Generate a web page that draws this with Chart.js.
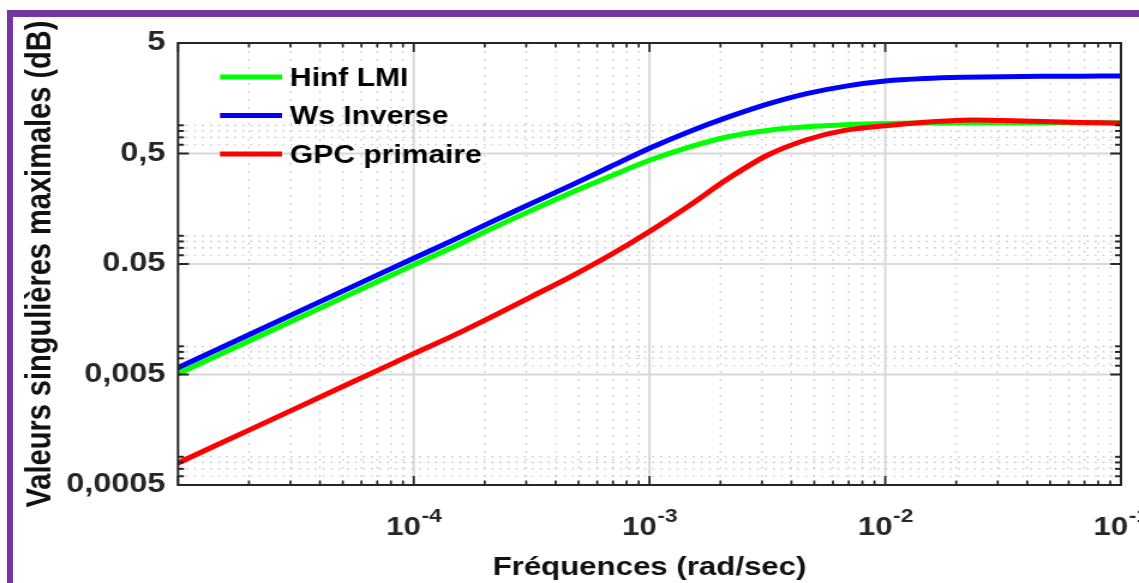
<!DOCTYPE html>
<html>
<head>
<meta charset="utf-8">
<title>Valeurs singulières maximales</title>
<script src="https://cdn.jsdelivr.net/npm/chart.js@4.4.0/dist/chart.umd.min.js"></script>
<style>
  html, body { margin: 0; padding: 0; background: #fff; overflow: hidden; }
  #frame {
    position: absolute; left: 7px; top: 10px; width: 1300px; height: 700px;
    border-left: 6px solid #7636a2; border-top: 7px solid #7636a2;
  }
  #plot { position: absolute; left: 0; top: 0; }
</style>
</head>
<body>
<div id="frame"></div>
<!-- canvas is drawn narrower and stretched sideways to the page width -->
<canvas id="plot" width="949" height="583" style="width:1139px;height:583px"></canvas>
<script>
document.addEventListener('DOMContentLoaded', function() {
    const FONT = '"Liberation Sans", Arial, Helvetica, sans-serif';
    const axisColor = '#262626';

    // Frequencies (rad/sec) and singular values of each curve
    const freq = [1e-5, 2e-5, 5e-5, 1e-4, 1.47e-4, 2.15e-4, 3.16e-4, 4.64e-4, 6.81e-4,
                  1e-3, 1.47e-3, 2.15e-3, 3.16e-3, 4.64e-3, 6.81e-3,
                  1e-2, 1.47e-2, 2.15e-2, 3.16e-2, 4.64e-2, 6.81e-2, 1e-1];
    const hinfLmi = [0.00508, 0.01006, 0.0248, 0.0491, 0.0713, 0.105, 0.1528, 0.2203, 0.311,
                     0.434, 0.570, 0.709, 0.809, 0.871, 0.912,
                     0.935, 0.943, 0.947, 0.949, 0.949, 0.949, 0.949];
    const wsInverse = [0.00576, 0.01145, 0.0284, 0.0564, 0.0822, 0.121, 0.1769, 0.2576, 0.379,
                       0.558, 0.788, 1.066, 1.399, 1.742, 2.037,
                       2.262, 2.382, 2.443, 2.473, 2.495, 2.505, 2.51];
    const gpcPrimaire = [0.000791, 0.00157, 0.00389, 0.00772, 0.01123, 0.0167, 0.02536, 0.0385, 0.0603,
                         0.0986, 0.168, 0.295, 0.482, 0.666, 0.813,
                         0.893, 0.960, 1.001, 0.995, 0.975, 0.954, 0.941];

    // Axis ticks
    const xMajor = [1e-5, 1e-4, 1e-3, 1e-2, 1e-1];
    const xLabelValues = [1e-4, 1e-3, 1e-2, 1e-1];
    const xLabelExp = ['-4', '-3', '-2', '-1'];
    const yMajor = [0.0005, 0.005, 0.05, 0.5, 5];
    const yLabels = ['0,0005', '0,005', '0.05', '0,5', '5'];

    // minor ticks: 2..9 per decade on x, only 6..9 (x 1e-4) on y
    const xMinor = [];
    [1e-5, 1e-4, 1e-3, 1e-2].forEach(d => {
        for (let k = 2; k <= 9; k++) xMinor.push(k * d);
    });
    const yMinor = [];
    [1e-4, 1e-3, 1e-2, 1e-1].forEach(d => {
        for (let k = 6; k <= 9; k++) yMinor.push(k * d);
    });

    function toPoints(values) {
        return freq.map((f, i) => ({ x: f, y: values[i] }));
    }

    function line(ctx, x1, y1, x2, y2) {
        ctx.beginPath();
        ctx.moveTo(x1, y1);
        ctx.lineTo(x2, y2);
        ctx.stroke();
    }

    // Grid, box, inward ticks, x labels with exponents and the legend
    const axesPlugin = {
        id: 'matlabAxes',
        beforeDatasetsDraw(chart) {
            const { ctx, chartArea: a, scales: { x, y } } = chart;
            ctx.save();
            ctx.strokeStyle = '#bdbdbd';
            ctx.lineWidth = 1.2;
            ctx.setLineDash([1.5, 6.5]);
            xMinor.forEach(v => {
                const px = x.getPixelForValue(v);
                line(ctx, px, a.top, px, a.bottom);
            });
            ctx.setLineDash([1.5, 5.2]);
            yMinor.forEach(v => {
                const py = y.getPixelForValue(v);
                line(ctx, a.left, py, a.right, py);
            });
            ctx.setLineDash([]);
            ctx.strokeStyle = '#d8d8d8';
            ctx.lineWidth = 2;
            xMajor.slice(1, -1).forEach(v => {
                const px = x.getPixelForValue(v);
                line(ctx, px, a.top, px, a.bottom);
            });
            yMajor.slice(1, -1).forEach(v => {
                const py = y.getPixelForValue(v);
                line(ctx, a.left, py, a.right, py);
            });
            ctx.restore();
        },
        afterDatasetsDraw(chart) {
            const { ctx, chartArea: a, scales: { x, y } } = chart;
            ctx.save();
            ctx.strokeStyle = axisColor;

            // tick marks on all four sides
            ctx.lineWidth = 1.7;
            xMajor.forEach(v => {
                const px = x.getPixelForValue(v);
                line(ctx, px, a.bottom, px, a.bottom - 9);
                line(ctx, px, a.top, px, a.top + 9);
            });
            xMinor.forEach(v => {
                const px = x.getPixelForValue(v);
                line(ctx, px, a.bottom, px, a.bottom - 4.5);
                line(ctx, px, a.top, px, a.top + 4.5);
            });
            ctx.lineWidth = 2;
            yMajor.forEach(v => {
                const py = y.getPixelForValue(v);
                line(ctx, a.left, py, a.left + 9, py);
                line(ctx, a.right, py, a.right - 9, py);
            });
            yMinor.forEach(v => {
                const py = y.getPixelForValue(v);
                line(ctx, a.left, py, a.left + 5, py);
                line(ctx, a.right, py, a.right - 5, py);
            });

            // box
            ctx.lineWidth = 2;
            ctx.strokeRect(a.left, a.top, a.right - a.left, a.bottom - a.top);

            // x tick labels 10^n
            ctx.fillStyle = axisColor;
            ctx.textBaseline = 'alphabetic';
            ctx.textAlign = 'left';
            xLabelValues.forEach((v, i) => {
                const px = x.getPixelForValue(v);
                ctx.font = 'bold 26px ' + FONT;
                const wBase = ctx.measureText('10').width;
                ctx.font = 'bold 19px ' + FONT;
                const wExp = ctx.measureText(xLabelExp[i]).width;
                const start = px - (wBase + wExp) / 2;
                ctx.font = 'bold 26px ' + FONT;
                ctx.fillText('10', start, 535);
                ctx.font = 'bold 19px ' + FONT;
                ctx.fillText(xLabelExp[i], start + wBase + 0.5, 522);
            });

            // legend in the upper left corner of the plot
            ctx.textBaseline = 'middle';
            ctx.font = 'bold 25px ' + FONT;
            chart.data.datasets.forEach((ds, i) => {
                const ly = 77 + i * 38.5;
                ctx.strokeStyle = ds.borderColor;
                ctx.lineWidth = 5;
                line(ctx, 183.3, ly, 235, ly);
                ctx.fillStyle = '#000';
                ctx.fillText(ds.label, 241.6, ly + 2);
            });
            ctx.restore();
        }
    };

    new Chart(document.getElementById('plot'), {
        type: 'line',
        data: {
            datasets: [
                { label: 'Hinf LMI', data: toPoints(hinfLmi), borderColor: '#00ff00', order: 2 },
                { label: 'Ws Inverse', data: toPoints(wsInverse), borderColor: '#0000ff', order: 1 },
                { label: 'GPC primaire', data: toPoints(gpcPrimaire), borderColor: '#ff0000', order: 0 }
            ]
        },
        options: {
            responsive: false,
            animation: false,
            devicePixelRatio: 1,
            layout: { padding: { left: 0, right: 15, top: 43, bottom: 0 } },
            elements: {
                line: { borderWidth: 5, tension: 0.3, borderCapStyle: 'round', borderJoinStyle: 'round', fill: false },
                point: { radius: 0, hoverRadius: 0 }
            },
            plugins: {
                legend: { display: false },
                tooltip: { enabled: false }
            },
            scales: {
                x: {
                    type: 'logarithmic',
                    position: 'bottom',
                    min: 1e-5,
                    max: 1e-1,
                    grid: { display: false },
                    border: { display: false },
                    ticks: { display: false },
                    afterFit: function(scale) { scale.height = 98; },
                    title: {
                        display: true,
                        text: 'Fréquences (rad/sec)',
                        color: '#111',
                        font: { family: FONT, size: 26, weight: 'bold' },
                        padding: { top: 0, bottom: 0 }
                    }
                },
                y: {
                    type: 'logarithmic',
                    position: 'left',
                    min: 0.0005,
                    max: 5,
                    grid: { display: false, drawTicks: false },
                    border: { display: false },
                    afterBuildTicks: function(scale) {
                        scale.ticks = yMajor.map(v => ({ value: v }));
                    },
                    afterFit: function(scale) { scale.width = 148.3; },
                    ticks: {
                        autoSkip: false,
                        padding: 10.5,
                        color: axisColor,
                        font: { family: FONT, size: 27, weight: 'bold' },
                        callback: function(value, index) { return yLabels[index]; }
                    },
                    title: {
                        display: true,
                        text: 'Valeurs singulières maximales (dB)',
                        color: '#111',
                        font: { family: FONT, size: 29, weight: 'bold' },
                        padding: { top: 16.5, bottom: 0 }
                    }
                }
            }
        },
        plugins: [axesPlugin]
    });
});
</script>
</body>
</html>
